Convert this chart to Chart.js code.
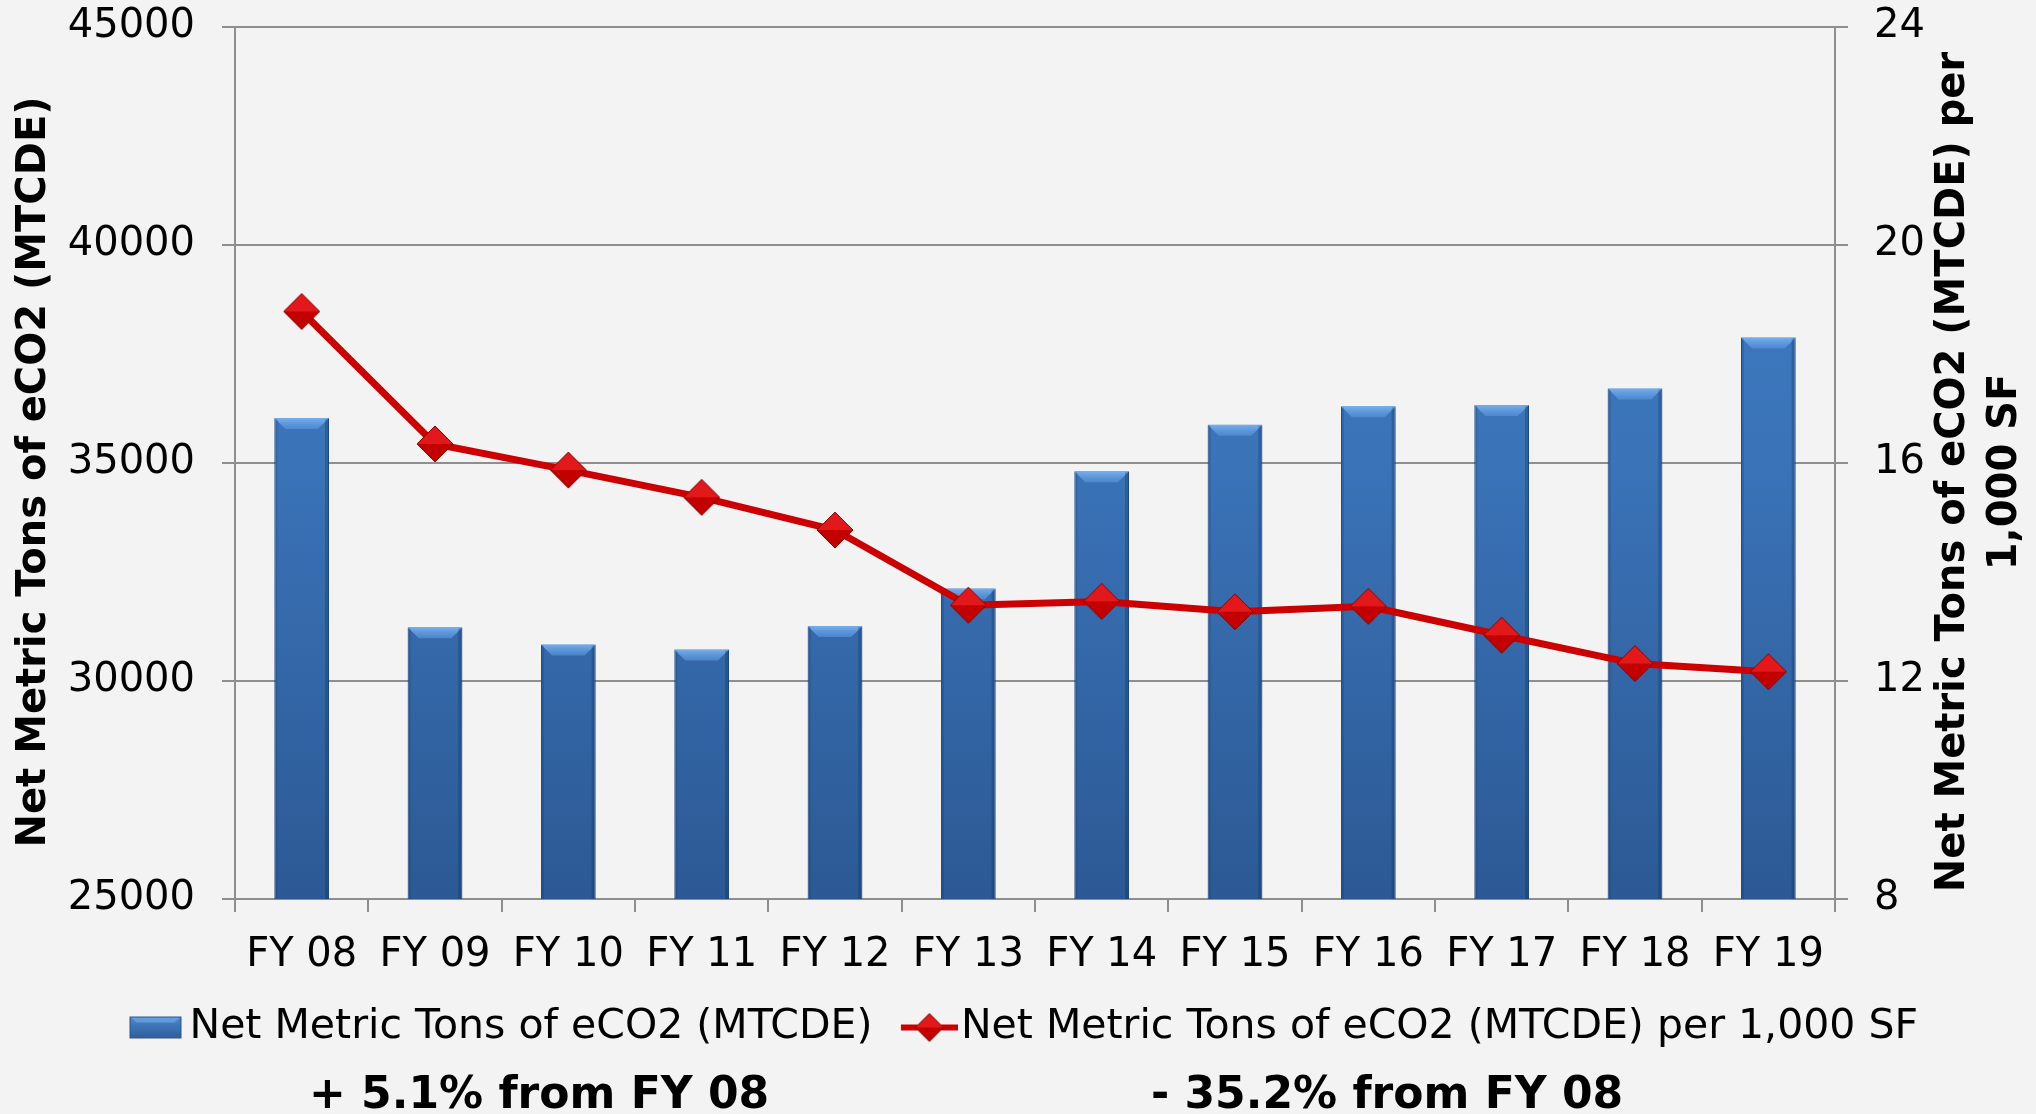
<!DOCTYPE html>
<html>
<head>
<meta charset="utf-8">
<title>Net Metric Tons of eCO2</title>
<script src="https://cdn.jsdelivr.net/npm/chart.js@4.4.1/dist/chart.umd.min.js"></script>
<style>
  html, body { margin: 0; padding: 0; background: #f3f3f3; }
  #wrap { width: 2036px; height: 1114px; }
</style>
</head>
<body>
<div id="wrap"><canvas id="co2Chart" width="2036" height="1114"></canvas></div>
<script>
// --- data ---
const fiscalYears = ['FY 08', 'FY 09', 'FY 10', 'FY 11', 'FY 12', 'FY 13', 'FY 14', 'FY 15', 'FY 16', 'FY 17', 'FY 18', 'FY 19'];
const netTons = [36030, 31230, 30840, 30720, 31260, 32120, 34810, 35880, 36300, 36330, 36710, 37880];
const tonsPer1000SF = [18.78, 16.35, 15.87, 15.37, 14.77, 13.39, 13.46, 13.27, 13.37, 12.84, 12.32, 12.17];
const barLabel = 'Net Metric Tons of eCO2 (MTCDE)';
const lineLabel = 'Net Metric Tons of eCO2 (MTCDE) per 1,000 SF';
const leftTitle = ['Net Metric Tons of eCO2 (MTCDE)'];
const rightTitle = ['Net Metric Tons of eCO2 (MTCDE) per', '1,000 SF'];
const notes = ['+ 5.1% from FY 08', '- 35.2% from FY 08'];

const FONT = "'DejaVu Sans', Verdana, sans-serif";
const GRID = '#8e8e8e';
Chart.defaults.font.family = FONT;
Chart.defaults.color = '#000';

// two-tone diamond used for the line markers
function diamond(half) {
  const c = document.createElement('canvas');
  const s = half * 2 + 2;
  c.width = s; c.height = s;
  const g = c.getContext('2d');
  const m = s / 2;
  g.fillStyle = '#e3181a';
  g.beginPath(); g.moveTo(m - half, m); g.lineTo(m, m - half); g.lineTo(m + half, m); g.closePath(); g.fill();
  g.fillStyle = '#c20000';
  g.beginPath(); g.moveTo(m - half, m); g.lineTo(m, m + half); g.lineTo(m + half, m); g.closePath(); g.fill();
  g.strokeStyle = '#8f0000';
  g.lineWidth = 1;
  g.beginPath(); g.moveTo(m - half, m); g.lineTo(m, m - half); g.lineTo(m + half, m); g.lineTo(m, m + half); g.closePath(); g.stroke();
  return c;
}
const marker = diamond(18);

// --- legend icons drawn on small canvases ---
function barIcon() {
  const c = document.createElement('canvas');
  c.width = 74; c.height = 40;
  const g = c.getContext('2d');
  const grad = g.createLinearGradient(0, 9, 0, 31);
  grad.addColorStop(0, '#4a86cc');
  grad.addColorStop(1, '#2f5e9c');
  g.fillStyle = grad;
  g.fillRect(17, 9, 52, 22);
  g.fillStyle = 'rgba(120,175,235,0.6)';
  g.beginPath(); g.moveTo(17, 9); g.lineTo(69, 9); g.lineTo(62, 15); g.lineTo(24, 15); g.closePath(); g.fill();
  g.strokeStyle = '#2a5590'; g.lineWidth = 1;
  g.strokeRect(17.5, 9.5, 51, 21);
  return c;
}
function lineIcon() {
  const c = document.createElement('canvas');
  c.width = 74; c.height = 40;
  const g = c.getContext('2d');
  g.strokeStyle = '#cc0000';
  g.lineWidth = 6;
  g.beginPath(); g.moveTo(17, 20); g.lineTo(74, 20); g.stroke();
  const d = diamond(14);
  g.drawImage(d, 45.5 - d.width / 2, 20 - d.height / 2);
  return c;
}

function barGradient(ctx) {
  const chart = ctx.chart;
  const area = chart.chartArea;
  if (!area) return '#3a72b8';
  const grad = chart.ctx.createLinearGradient(0, area.top, 0, area.bottom);
  grad.addColorStop(0, '#3f7dc6');
  grad.addColorStop(0.5, '#3a73b8');
  grad.addColorStop(1, '#2c5994');
  return grad;
}

// bevel on top of each bar, positions taken from the bar elements
const barBevel = {
  id: 'barBevel',
  afterDatasetDraw(chart, args) {
    if (args.index !== 0) return;
    const { ctx, chartArea } = chart;
    args.meta.data.forEach(bar => {
      const { x, y, width, base } = bar.getProps(['x', 'y', 'width', 'base'], true);
      const bottom = Math.min(base, chartArea.bottom);
      const l = x - width / 2, r = x + width / 2, b = 11;
      ctx.save();
      const g = ctx.createLinearGradient(0, y, 0, y + b);
      g.addColorStop(0, 'rgba(120,178,240,0.95)');
      g.addColorStop(1, 'rgba(90,150,220,0.6)');
      ctx.fillStyle = g;
      ctx.beginPath();
      ctx.moveTo(l, y); ctx.lineTo(r, y); ctx.lineTo(r - b, y + b); ctx.lineTo(l + b, y + b);
      ctx.closePath(); ctx.fill();
      ctx.fillStyle = 'rgba(0,25,70,0.15)';
      ctx.fillRect(l, y + 1, 3, bottom - y - 1);
      ctx.fillStyle = 'rgba(0,25,70,0.22)';
      ctx.fillRect(r - 4, y + 1, 4, bottom - y - 1);
      ctx.restore();
    });
  }
};

// axis titles (both read bottom to top) and the two notes under the legend
const extraText = {
  id: 'extraText',
  afterDraw(chart) {
    const { ctx, chartArea } = chart;
    const y1 = chart.scales.y1;
    const midY = (chartArea.top + chartArea.bottom) / 2 + 9;
    ctx.save();
    ctx.fillStyle = '#000';
    ctx.font = 'bold 40px ' + FONT;
    ctx.textAlign = 'center';
    ctx.textBaseline = 'middle';
    const vertical = (lines, x0) => lines.forEach((line, i) => {
      ctx.save();
      ctx.translate(x0 + i * 52, midY);
      ctx.rotate(-Math.PI / 2);
      ctx.fillText(line, 0, 0);
      ctx.restore();
    });
    vertical(leftTitle, 35);
    vertical(rightTitle, y1.right - 82);
    ctx.font = 'bold 44px ' + FONT;
    ctx.textBaseline = 'alphabetic';
    ctx.fillText(notes[0], 539, 1108);
    ctx.fillText(notes[1], 1387, 1108);
    ctx.restore();
  }
};

// vertical axes: fixed widths, no extra label padding so the plot top sits at the layout padding
function fixVertical(width) {
  return s => { s.width = width; s.paddingTop = 0; s.paddingBottom = 0; };
}

new Chart(document.getElementById('co2Chart'), {
  type: 'bar',
  data: {
    labels: fiscalYears,
    datasets: [
      {
        type: 'bar',
        label: barLabel,
        data: netTons,
        yAxisID: 'y',
        backgroundColor: barGradient,
        borderColor: '#2a5590',
        borderWidth: 1,
        borderSkipped: 'bottom',
        categoryPercentage: 1,
        barPercentage: 0.41,
        order: 1
      },
      {
        type: 'line',
        label: lineLabel,
        data: tonsPer1000SF,
        yAxisID: 'y1',
        borderColor: '#cc0000',
        borderWidth: 7,
        tension: 0,
        pointStyle: marker,
        pointRadius: 18,
        order: 0
      }
    ]
  },
  options: {
    responsive: false,
    animation: false,
    layout: { padding: { top: 27, bottom: 56, left: 12, right: 0 } },
    plugins: {
      tooltip: { enabled: false },
      legend: {
        position: 'bottom',
        labels: {
          usePointStyle: true,
          pointStyleWidth: 39,
          padding: 29,
          font: { size: 41 },
          color: '#000',
          generateLabels: () => [
            { text: barLabel, pointStyle: barIcon(), datasetIndex: 0, lineWidth: 0, hidden: false },
            { text: lineLabel, pointStyle: lineIcon(), datasetIndex: 1, lineWidth: 0, hidden: false }
          ]
        }
      }
    },
    scales: {
      x: {
        offset: true,
        grid: { drawOnChartArea: false, offset: true, color: GRID, lineWidth: 2, tickLength: 13 },
        border: { color: GRID, width: 2 },
        ticks: { font: { size: 40 }, color: '#000', padding: 20, maxRotation: 0 },
        afterFit: s => { s.height = 79; }
      },
      y: {
        position: 'left',
        min: 25000,
        max: 45000,
        ticks: { stepSize: 5000, font: { size: 40 }, color: '#000', padding: 27, callback: v => String(v) },
        grid: { color: GRID, lineWidth: 2, tickLength: 13 },
        border: { color: GRID, width: 2 },
        afterFit: fixVertical(223)
      },
      y1: {
        position: 'right',
        min: 8,
        max: 24,
        ticks: { stepSize: 4, font: { size: 40 }, color: '#000', padding: 26, callback: v => String(v) },
        grid: { drawOnChartArea: false, color: GRID, lineWidth: 2, tickLength: 13 },
        border: { color: GRID, width: 2 },
        afterFit: fixVertical(201)
      }
    }
  },
  plugins: [barBevel, extraText]
});
</script>
</body>
</html>
